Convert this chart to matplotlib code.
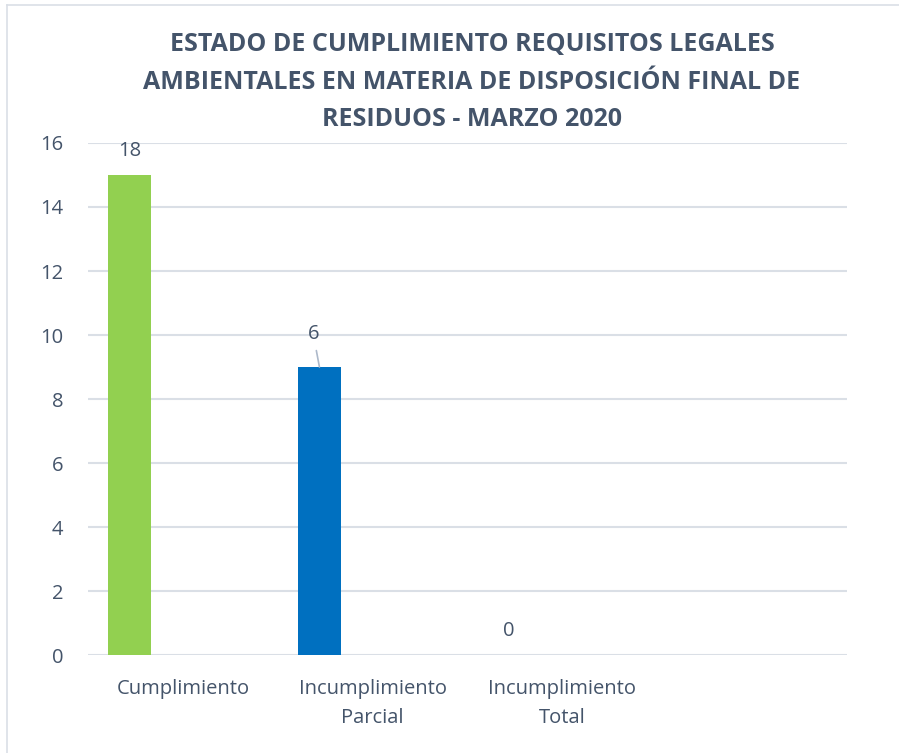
import matplotlib.pyplot as plt
from matplotlib.lines import Line2D

# Data ___________________________________________________________________________
categories = ["Cumplimiento", "Incumplimiento\nParcial", "Incumplimiento\nTotal", ""]
bar_heights = [15, 9, 0]
bar_labels = ["18", "6", "0"]
bar_colors = ["#92D050", "#0070C0", "#A5A5A5"]
y_ticks = [0, 2, 4, 6, 8, 10, 12, 14, 16]
title = ("ESTADO DE CUMPLIMIENTO REQUISITOS LEGALES\n"
         "AMBIENTALES EN MATERIA DE DISPOSICIÓN FINAL DE\n"
         "RESIDUOS - MARZO 2020")

txt = "#44546A"
grid = "#DADFE6"
plt.rcParams['font.family'] = ['Open Sans', 'DejaVu Sans']

fig = plt.figure(figsize=(8.99, 7.53), dpi=100)
ax = fig.add_axes([0.0979, 0.1301, 0.844, 0.680])

# bars sit left of the category centre (clustered layout)
offset = -0.28
width = 0.227
xs = [i + offset for i in range(len(bar_heights))]
ax.bar(xs, bar_heights, width=width, color=bar_colors, zorder=3)

ax.set_xlim(-0.5, len(categories) - 0.5)
ax.set_ylim(0, 16)
ax.set_yticks(y_ticks)
ax.set_xticks(range(len(categories)))
ax.set_xticklabels(categories, fontsize=14.5, color=txt, linespacing=1.6)
ax.tick_params(axis='y', labelsize=14.5, labelcolor=txt, length=0, pad=18)
ax.tick_params(axis='x', length=0, pad=17)
ax.grid(axis='y', color=grid, linewidth=1.5, zorder=0)
for s in ax.spines.values():
    s.set_visible(False)

# data labels
for i, (x, h, lab) in enumerate(zip(xs, bar_heights, bar_labels)):
    if i == 1:
        ax.annotate(lab, xy=(x, h), xytext=(-4.5, 24), textcoords='offset points',
                    ha='center', va='center', fontsize=14.5, color=txt,
                    arrowprops=dict(arrowstyle='-', color='#ADB9CA', lw=1.2,
                                    shrinkA=3, shrinkB=0))
    else:
        ax.annotate(lab, xy=(x, h), xytext=(0, 17), textcoords='offset points',
                    ha='center', va='center', fontsize=14.5, color=txt)

fig.text(0.525, 0.891, title, ha='center', va='center', fontsize=18,
         fontweight='bold', color=txt, linespacing=1.64)

# light frame around the chart
fig.add_artist(Line2D([7 / 899, 7 / 899], [0, 1 - 5 / 753], color=grid, lw=1.2))
fig.add_artist(Line2D([7 / 899, 1], [1 - 5 / 753, 1 - 5 / 753], color=grid, lw=1.2))

fig.savefig("out.png", dpi=100)
